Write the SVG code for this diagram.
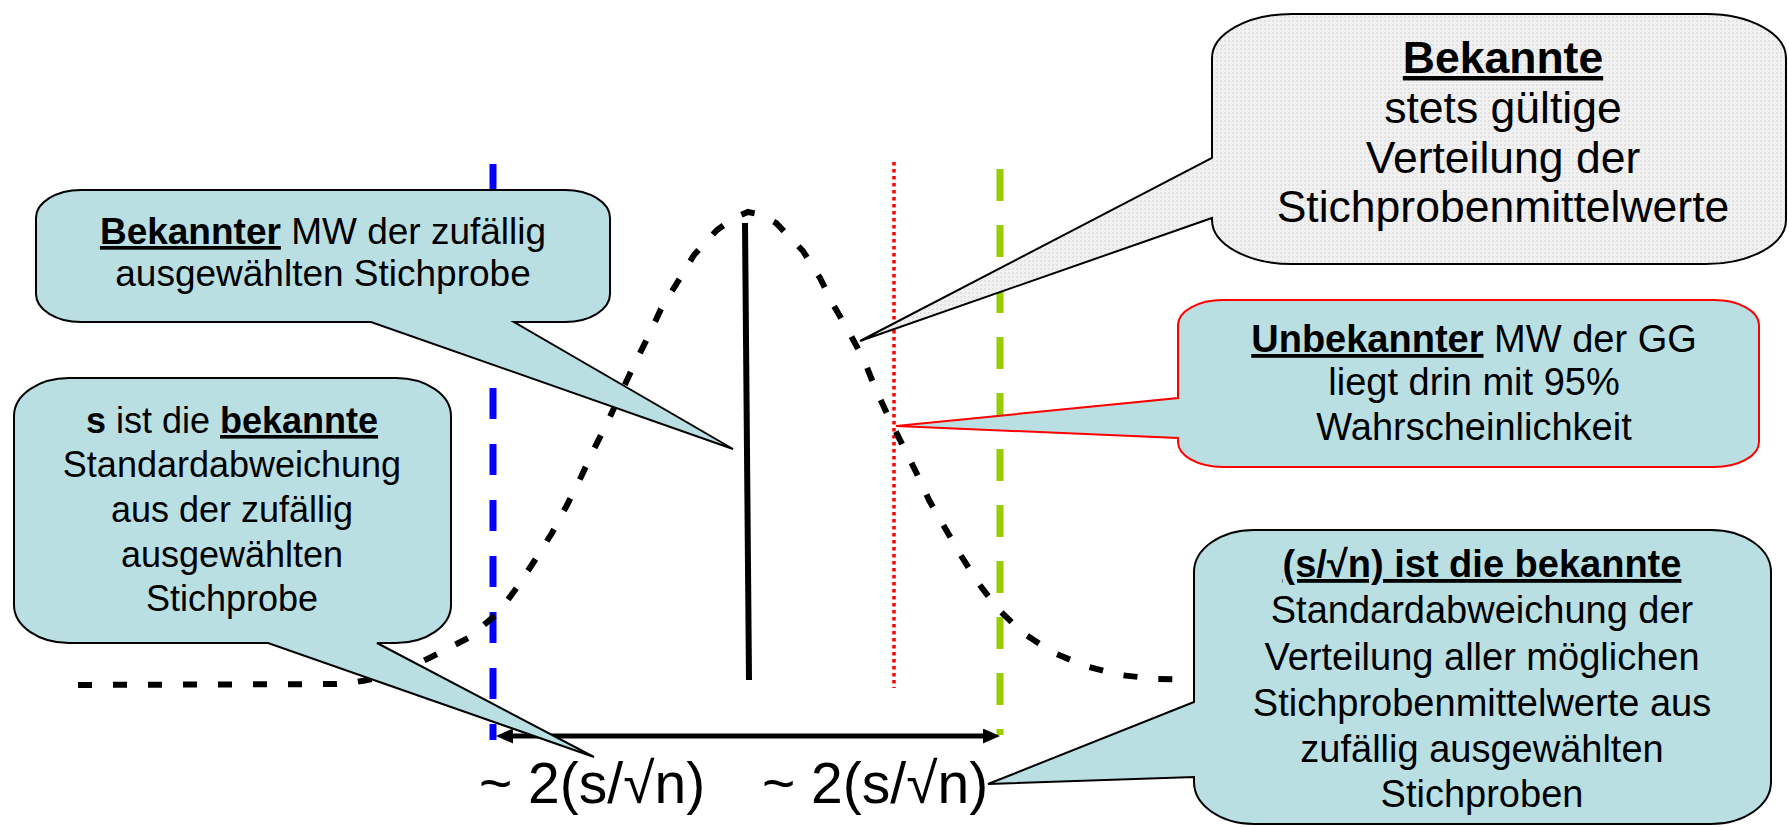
<svg xmlns="http://www.w3.org/2000/svg" width="1789" height="827" viewBox="0 0 1789 827">
<style>
text{font-family:"Liberation Sans",Arial,sans-serif;fill:#000}
.t36{font-size:36px}
.t37{font-size:37px}
.t38{font-size:38px}
.t44{font-size:44.5px}
.lab{font-size:57px}
.b{font-weight:bold}
.u{text-decoration:underline}
.teal{fill:#B9DFE3;stroke:#000;stroke-width:2;stroke-linejoin:miter}
.redc{fill:#B9DFE3;stroke:#FF0000;stroke-width:2}
.gray{fill:url(#dots);stroke:#000;stroke-width:2}
.bell{fill:none;stroke:#000;stroke-width:6;stroke-dasharray:14 21}
.arr{stroke:#000;stroke-width:5;fill:none}
</style>
<defs>
<pattern id="dots" width="4" height="4" patternUnits="userSpaceOnUse">
<rect width="4" height="4" fill="#F1F1F1"/>
<rect width="2" height="2" fill="#E2E2E2"/>
</pattern>
<marker id="ah" markerUnits="userSpaceOnUse" markerWidth="17" markerHeight="15" viewBox="0 0 17 15" refX="4" refY="7.5" orient="auto">
<path d="M0,0 L17,7.5 L0,15 z" fill="#000"/>
</marker>
</defs>
<rect width="1789" height="827" fill="#fff"/>
<g id="connectors">
<line x1="493" y1="164" x2="493" y2="740" stroke="#0000FF" stroke-width="7" stroke-dasharray="31 25"/>
<line x1="1000" y1="169" x2="1000" y2="735" stroke="#99CC00" stroke-width="7" stroke-dasharray="32 24"/>
<line x1="894" y1="162" x2="894" y2="688" stroke="#FF0000" stroke-width="3.5" stroke-dasharray="3.5 3.5"/>
<line x1="745" y1="223" x2="749" y2="680" stroke="#000" stroke-width="6"/>
<path class="bell" d="M78,685 L336,684 C372,682 405,671 437,654 L470,637 L499,612 L518,586 L535,560 L552,533 L567,505 L581,477 L594,449 L608,421 L621,393 L634,365 L648,337 L661,309 L677,283 L694,255 L717,230 L734,218 L748,212 L762,215 L776,223 L803,251 L820,278 L834,306 L849,332 L864,360 L876,390 L889,418 L903,446 L916,472 L929,500 L945,528 L960,554 L979,584 L998,609 L1023,633 L1052,652 L1085,666 L1120,675 L1157,679 L1200,680"/>
<line class="arr" x1="750" y1="736" x2="509" y2="736" marker-end="url(#ah)"/>
<line class="arr" x1="750" y1="736" x2="987" y2="736" marker-end="url(#ah)"/>
</g>
<g id="label-left">
<text class="lab" x="479" y="803">~ 2(s/√n)</text>
</g>
<g id="label-right">
<text class="lab" x="762" y="803">~ 2(s/√n)</text>
</g>
<g id="callout-mw-stichprobe">
<path class="teal" d="M81,190 H565 A45 28 0 0 1 610,218 V294 A45 28 0 0 1 565,322 H514 L733,449 L371,322 H81 A45 28 0 0 1 36,294 V218 A45 28 0 0 1 81,190 Z"/>
<text class="t37" text-anchor="middle" x="323" y="244"><tspan class="b u">Bekannter</tspan> MW der zufällig</text>
<text class="t37" text-anchor="middle" x="323" y="286">ausgewählten Stichprobe</text>
</g>
<g id="callout-s">
<path class="teal" d="M69,378 H396 A55 38 0 0 1 451,416 V605 A55 38 0 0 1 396,643 H377 L594,757 L268,643 H69 A55 38 0 0 1 14,605 V416 A55 38 0 0 1 69,378 Z"/>
<text class="t36" text-anchor="middle" x="232" y="433"><tspan class="b">s</tspan> ist die <tspan class="b u">bekannte</tspan></text>
<text class="t36" text-anchor="middle" x="232" y="477">Standardabweichung</text>
<text class="t36" text-anchor="middle" x="232" y="522">aus der zufällig</text>
<text class="t36" text-anchor="middle" x="232" y="567">ausgewählten</text>
<text class="t36" text-anchor="middle" x="232" y="611">Stichprobe</text>
</g>
<g id="callout-unbekannt">
<path class="redc" d="M1223,300 H1714 A45 25 0 0 1 1759,325 V442 A45 25 0 0 1 1714,467 H1223 A45 25 0 0 1 1178,442 V438 L896,426 L1178,398 V325 A45 25 0 0 1 1223,300 Z"/>
<text class="t38" text-anchor="middle" x="1474" y="352"><tspan class="b u">Unbekannter</tspan> MW der GG</text>
<text class="t38" text-anchor="middle" x="1474" y="395">liegt drin mit 95%</text>
<text class="t38" text-anchor="middle" x="1474" y="440">Wahrscheinlichkeit</text>
</g>
<g id="callout-sn">
<path class="teal" d="M1254,530 H1711 A60 42 0 0 1 1771,572 V782 A60 42 0 0 1 1711,824 H1254 A60 42 0 0 1 1194,782 V777 L988,784 L1194,702 V572 A60 42 0 0 1 1254,530 Z"/>
<text class="t38" text-anchor="middle" x="1482" y="577"><tspan class="b u">(s/√n) ist die bekannte</tspan></text>
<text class="t38" text-anchor="middle" x="1482" y="623">Standardabweichung der</text>
<text class="t38" text-anchor="middle" x="1482" y="670">Verteilung aller möglichen</text>
<text class="t38" text-anchor="middle" x="1482" y="716">Stichprobenmittelwerte aus</text>
<text class="t38" text-anchor="middle" x="1482" y="762">zufällig ausgewählten</text>
<text class="t38" text-anchor="middle" x="1482" y="807">Stichproben</text>
</g>
<g id="callout-verteilung">
<path class="gray" d="M1292,14 H1706 A80 44 0 0 1 1786,58 V220 A80 44 0 0 1 1706,264 H1292 A80 44 0 0 1 1212,220 V218 L860,341 L1212,158 V58 A80 44 0 0 1 1292,14 Z"/>
<text class="t44" text-anchor="middle" x="1503" y="73"><tspan class="b u">Bekannte</tspan></text>
<text class="t44" text-anchor="middle" x="1503" y="123">stets gültige</text>
<text class="t44" text-anchor="middle" x="1503" y="173">Verteilung der</text>
<text class="t44" text-anchor="middle" x="1503" y="222">Stichprobenmittelwerte</text>
</g>
</svg>
